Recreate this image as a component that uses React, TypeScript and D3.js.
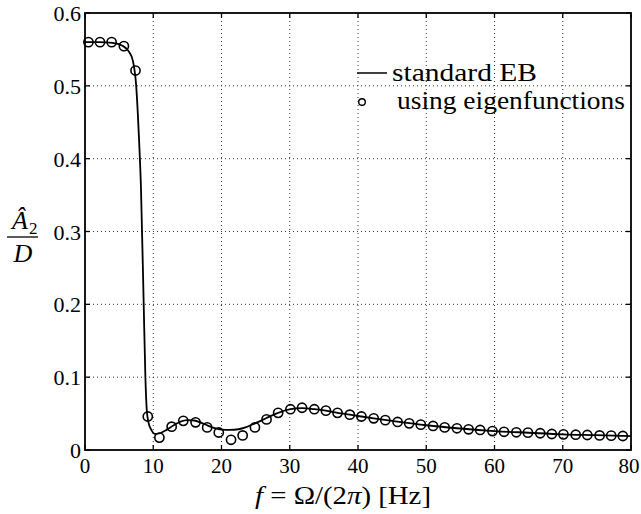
import React from "react";
import * as d3 from "d3";

const xTicks = [0, 10, 20, 30, 40, 50, 60, 70, 80];
const yTicks = [0, 0.1, 0.2, 0.3, 0.4, 0.5, 0.6];
const yTickLabels = ["0", "0.1", "0.2", "0.3", "0.4", "0.5", "0.6"];

// standard EB (solid line) knots
const lineF = [0, 2, 4, 5.5, 6.5, 7.0, 7.5, 7.9, 8.2, 8.6, 8.85, 9.05, 9.3, 9.7, 10.3, 11.0, 12.0, 13.0, 14.0, 15.0, 16.0, 17.0, 18.0, 19.0, 20.0, 21.2, 22.5, 23.5, 24.5, 25.5, 26.6, 28.3, 30.1, 31.8, 33.6, 35.3, 37.0, 38.8, 40.5, 42.3, 45.0, 50.0, 55.0, 60.0, 65.0, 70.0, 75.0, 80.0];
const lineV = [0.560, 0.560, 0.559, 0.555, 0.546, 0.535, 0.50, 0.43, 0.36, 0.20, 0.10, 0.055, 0.038, 0.028, 0.022, 0.023, 0.028, 0.034, 0.039, 0.041, 0.0405, 0.0375, 0.0335, 0.030, 0.028, 0.0275, 0.0285, 0.031, 0.035, 0.039, 0.044, 0.051, 0.056, 0.0575, 0.056, 0.054, 0.051, 0.0485, 0.046, 0.0435, 0.040, 0.034, 0.0295, 0.026, 0.0237, 0.0215, 0.0203, 0.019];

// using eigenfunctions (circles)
const circF = [0.5, 2.2, 3.9, 5.7, 7.4, 9.2, 10.9, 12.7, 14.4, 16.2, 17.9, 19.6, 21.4, 23.1, 24.9, 26.6, 28.3, 30.1, 31.8, 33.6, 35.3, 37.0, 38.8, 40.5, 42.3, 44.0, 45.8, 47.5, 49.2, 51.0, 52.7, 54.5, 56.2, 57.9, 59.7, 61.4, 63.2, 64.9, 66.7, 68.4, 70.1, 71.9, 73.6, 75.4, 77.1, 78.8];
const circV = [0.560, 0.560, 0.560, 0.5545, 0.521, 0.046, 0.017, 0.032, 0.040, 0.038, 0.031, 0.024, 0.014, 0.020, 0.031, 0.042, 0.051, 0.056, 0.058, 0.056, 0.054, 0.051, 0.0485, 0.046, 0.0435, 0.041, 0.0385, 0.0366, 0.0348, 0.033, 0.031, 0.0298, 0.0284, 0.0275, 0.026, 0.025, 0.0243, 0.0238, 0.023, 0.022, 0.0215, 0.021, 0.0206, 0.020, 0.0197, 0.0192];

const legendLabels = ["standard EB", "using eigenfunctions"];

const W = 641, H = 514;
const L = 85, R = 631, T = 13, B = 450;
const serif = '"Liberation Serif", "DejaVu Serif", serif';
const ts: React.CSSProperties = { fontFamily: serif };

export default function App() {
  const x = d3.scaleLinear().domain([0, 80]).range([L, R]);
  const y = d3.scaleLinear().domain([0, 0.6]).range([B, T]);
  const linePts: [number, number][] = lineF.map((f, i) => [f, lineV[i]]);
  const path = d3
    .line<[number, number]>()
    .x((d) => x(d[0]))
    .y((d) => y(d[1]))
    .curve(d3.curveMonotoneX)(linePts) || "";
  const tick = 5;
  return (
    <svg width={W} height={H} style={{ position: "absolute", left: 0, top: 0, background: "#fff" }}>
      <rect x={0} y={0} width={W} height={H} fill="#fff" />
      {xTicks.slice(1, -1).map((t) => (
        <line key={"gx" + t} x1={x(t)} x2={x(t)} y1={T} y2={B} stroke="#333" strokeWidth={1} strokeDasharray="1,3" />
      ))}
      {yTicks.slice(1, -1).map((t) => (
        <line key={"gy" + t} x1={L} x2={R} y1={y(t)} y2={y(t)} stroke="#333" strokeWidth={1} strokeDasharray="1,3" />
      ))}
      {xTicks.map((t, i) => (
        <g key={"tx" + t}>
          <line x1={x(t)} x2={x(t)} y1={B} y2={B - tick} stroke="#000" strokeWidth={1.3} />
          <line x1={x(t)} x2={x(t)} y1={T} y2={T + tick} stroke="#000" strokeWidth={1.3} />
          <text x={Math.min(x(t), W - 12)} y={473} textAnchor="middle" fontSize={21} style={ts}>{t}</text>
        </g>
      ))}
      {yTicks.map((t, i) => (
        <g key={"ty" + t}>
          <line x1={L} x2={L + tick} y1={y(t)} y2={y(t)} stroke="#000" strokeWidth={1.3} />
          <line x1={R} x2={R - tick} y1={y(t)} y2={y(t)} stroke="#000" strokeWidth={1.3} />
          <text x={81} y={y(t) + 8} textAnchor="end" fontSize={22} style={ts}>{yTickLabels[i]}</text>
        </g>
      ))}
      <rect x={L} y={T} width={R - L} height={B - T} fill="none" stroke="#000" strokeWidth={1.8} />
      <path d={path} fill="none" stroke="#000" strokeWidth={1.8} />
      {circF.map((f, i) => (
        <circle key={"c" + i} cx={x(f)} cy={y(circV[i])} r={4.6} fill="none" stroke="#000" strokeWidth={1.6} />
      ))}
      <line x1={357} x2={387} y1={73} y2={73} stroke="#000" strokeWidth={1.5} />
      <text x={392} y={81} fontSize={26} style={ts} textLength={145} lengthAdjust="spacingAndGlyphs">{legendLabels[0]}</text>
      <circle cx={362} cy={102} r={3.3} fill="none" stroke="#000" strokeWidth={1.4} />
      <text x={397} y={109} fontSize={26} style={ts} textLength={228} lengthAdjust="spacingAndGlyphs">{legendLabels[1]}</text>
      <text x={255} y={504} fontSize={25} style={ts} textLength={176} lengthAdjust="spacingAndGlyphs">
        <tspan fontStyle="italic">f</tspan>
        <tspan> = Ω/(2</tspan>
        <tspan fontStyle="italic">π</tspan>
        <tspan>) [Hz]</tspan>
      </text>
      <text x={12} y={229} fontSize={26} fontStyle="italic" style={ts}>Â</text>
      <text x={29} y={234} fontSize={17} style={ts}>2</text>
      <line x1={7} x2={38} y1={237} y2={237} stroke="#000" strokeWidth={1.3} />
      <text x={23} y={262} fontSize={26} fontStyle="italic" textAnchor="middle" style={ts}>D</text>
    </svg>
  );
}
